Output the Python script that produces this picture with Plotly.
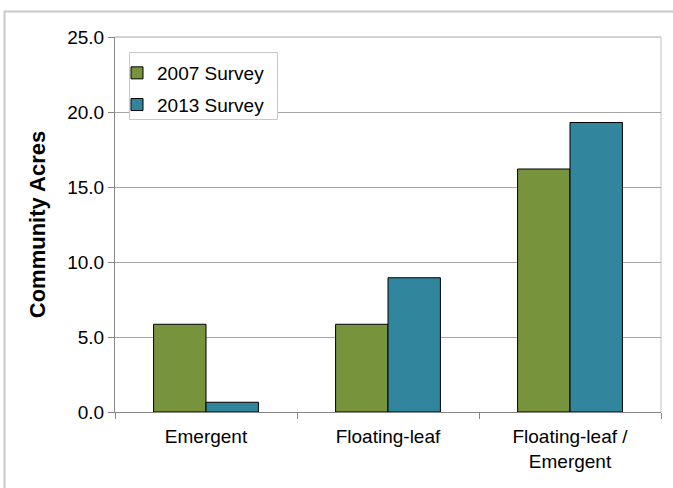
import plotly.graph_objects as go

categories = ["Emergent", "Floating-leaf", "Floating-leaf /<br>Emergent"]
survey_2007 = [5.85, 5.85, 16.2]
survey_2013 = [0.65, 8.95, 19.3]
series_names = ["2007 Survey", "2013 Survey"]
y_ticks = [0, 5, 10, 15, 20, 25]

W, H = 673, 488
L, R, T, B = 115, 12, 37, 76
pw, ph = W - L - R, H - T - B

def px_x(x):
    return (x - L) / pw

def px_y(y):
    return (H - B - y) / ph

fig = go.Figure()
fig.add_trace(go.Bar(x=categories, y=survey_2007, name=series_names[0],
                     marker=dict(color="#77933C", line=dict(color="#000000", width=1)),
                     legendgroup="a"))
fig.add_trace(go.Bar(x=categories, y=survey_2013, name=series_names[1],
                     marker=dict(color="#31859C", line=dict(color="#000000", width=1)),
                     legendgroup="b"))

font = "Liberation Sans, Arial, sans-serif"
fs = 19
fig.update_layout(
    width=W, height=H,
    margin=dict(l=L, r=R, t=T, b=B),
    paper_bgcolor="white", plot_bgcolor="white",
    barmode="group", bargap=0.424, bargroupgap=0,
    font=dict(family=font, size=fs, color="#000000"),
    showlegend=True,
    legend=dict(x=px_x(117), y=px_y(54), xanchor="left", yanchor="top",
                bgcolor="rgba(0,0,0,0)", borderwidth=0,
                font=dict(size=fs, family=font),
                traceorder="grouped", tracegroupgap=4),
    xaxis=dict(showgrid=False, showline=True, linecolor="#868686", linewidth=1,
               ticks="outside", ticklen=6, tickcolor="#868686", tickson="boundaries",
               tickfont=dict(size=fs, family=font), ticklabelstandoff=7),
    yaxis=dict(range=[0, 25], tickvals=y_ticks, ticktext=[f"{v:.1f}" for v in y_ticks],
               showgrid=True, gridcolor="#A6A6A6", gridwidth=1,
               showline=True, linecolor="#868686", linewidth=1,
               ticks="outside", ticklen=6, tickcolor="#868686",
               tickfont=dict(size=fs, family=font), zeroline=False,
               title=dict(text="<b>Community Acres</b>", font=dict(size=22, family=font), standoff=15)),
    shapes=[
        # outer chart frame
        dict(type="rect", xref="paper", yref="paper",
             x0=px_x(4.5), x1=px_x(700), y0=px_y(520), y1=px_y(11.5),
             line=dict(color="#C8C8C8", width=2), fillcolor="rgba(0,0,0,0)", layer="below"),
        # plot area border top/right
        dict(type="line", xref="paper", yref="paper", x0=0, x1=1, y0=1, y1=1,
             line=dict(color="#A6A6A6", width=1), layer="below"),
        dict(type="line", xref="paper", yref="paper", x0=1, x1=1, y0=0, y1=1,
             line=dict(color="#BFBFBF", width=1), layer="below"),
        # legend box
        dict(type="rect", xref="paper", yref="paper",
             x0=px_x(129.5), x1=px_x(277.5), y0=px_y(119.5), y1=px_y(52.5),
             line=dict(color="#C8C8C8", width=1), fillcolor="white", layer="above"),
    ],
)

fig.write_html("out.html", config={"displayModeBar": False},
               post_script="document.body.style.margin='0px';document.body.style.overflow='hidden';")
